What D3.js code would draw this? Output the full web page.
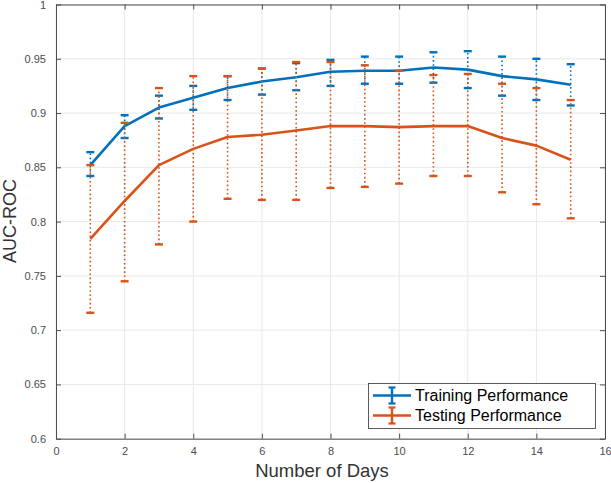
<!DOCTYPE html>
<html><head><meta charset="utf-8">
<script src="https://cdn.jsdelivr.net/npm/d3@7"></script>
<style>
html,body{margin:0;padding:0;background:#fff;}
text{font-family:"Liberation Sans",Arial,Helvetica,sans-serif;}
</style></head>
<body><svg id="c" width="611" height="483"></svg>
<script>
const days = [1,2,3,4,5,6,7,8,9,10,11,12,13,14,15];
const trainMean = [0.852,0.888,0.905,0.914,0.923,0.929,0.933,0.938,0.939,0.939,0.942,0.940,0.934,0.931,0.926];
const trainLo   = [0.842,0.877,0.895,0.903,0.912,0.917,0.921,0.925,0.927,0.927,0.928,0.923,0.916,0.912,0.907];
const trainHi   = [0.864,0.898,0.916,0.925,0.934,0.941,0.946,0.949,0.952,0.952,0.956,0.957,0.952,0.950,0.945];
const testMean  = [0.784,0.819,0.852,0.867,0.878,0.880,0.884,0.888,0.888,0.887,0.888,0.888,0.877,0.870,0.857];
const testLo    = [0.716,0.745,0.779,0.800,0.821,0.820,0.820,0.831,0.832,0.835,0.842,0.842,0.827,0.816,0.803];
const testHi    = [0.852,0.891,0.923,0.934,0.934,0.941,0.947,0.947,0.944,0.939,0.935,0.936,0.927,0.923,0.912];
const xTicks = [0,2,4,6,8,10,12,14,16];
const yTicks = [0.6,0.65,0.7,0.75,0.8,0.85,0.9,0.95,1];
const seriesNames = ["Training Performance","Testing Performance"];
const colors = ["#0072BD","#D95319"];

const L=56, R=605, T=4.5, B=438.7;
const svg = d3.select("#c");
const x = d3.scaleLinear().domain([0,16]).range([L,R]);
const y = d3.scaleLinear().domain([0.6,1]).range([B,T]);
const axisCol = "#4d4d4d";

// grid
const g = svg.append("g");
g.selectAll(".gx").data(xTicks).enter().append("line")
 .attr("x1",d=>x(d)).attr("x2",d=>x(d)).attr("y1",T).attr("y2",B)
 .attr("stroke","#e8e8e8").attr("stroke-width",1);
g.selectAll(".gy").data(yTicks).enter().append("line")
 .attr("y1",d=>y(d)).attr("y2",d=>y(d)).attr("x1",L).attr("x2",R)
 .attr("stroke","#e8e8e8").attr("stroke-width",1);

// axes
const fmt = d=>d3.format("")(+d.toFixed(2));
const ax = svg.append("g").attr("transform",`translate(0,${B})`)
 .call(d3.axisBottom(x).tickValues(xTicks).tickSizeInner(-5).tickSizeOuter(0).tickPadding(9).tickFormat(fmt));
const ay = svg.append("g").attr("transform",`translate(${L},0)`)
 .call(d3.axisLeft(y).tickValues(yTicks).tickSizeInner(-5).tickSizeOuter(0).tickPadding(10).tickFormat(fmt));
const axT = svg.append("g").attr("transform",`translate(0,${T})`)
 .call(d3.axisTop(x).tickValues(xTicks).tickSizeInner(-5).tickSizeOuter(0).tickFormat(""));
const ayR = svg.append("g").attr("transform",`translate(${R},0)`)
 .call(d3.axisRight(y).tickValues(yTicks).tickSizeInner(-5).tickSizeOuter(0).tickFormat(""));
[ax,ay,axT,ayR].forEach(a=>{
  a.select(".domain").attr("stroke",axisCol).attr("stroke-width",1);
  a.selectAll(".tick line").attr("stroke",axisCol);
  a.selectAll(".tick text").attr("fill","#4d4d4d").style("font-size","11px")
   .style("font-family","'Liberation Sans',Arial,sans-serif");
});

// series
const series = [
 {mean:trainMean, lo:trainLo, hi:trainHi},
 {mean:testMean, lo:testLo, hi:testHi}
];
const capW = 4;
series.forEach((s,i)=>{
  const sg = svg.append("g");
  const pts = days.map((d,j)=>({d, m:s.mean[j], lo:s.lo[j], hi:s.hi[j]}));
  sg.selectAll(".eb").data(pts).enter().append("line")
   .attr("x1",p=>x(p.d)).attr("x2",p=>x(p.d)).attr("y1",p=>y(p.lo)).attr("y2",p=>y(p.hi))
   .attr("stroke",colors[i]).attr("stroke-width",1.6).attr("stroke-dasharray","1.6,2.6");
  ["lo","hi"].forEach(k=>{
    sg.selectAll(".cap"+k).data(pts).enter().append("line")
     .attr("x1",p=>x(p.d)-capW).attr("x2",p=>x(p.d)+capW)
     .attr("y1",p=>y(p[k])).attr("y2",p=>y(p[k]))
     .attr("stroke",colors[i]).attr("stroke-width",2.4);
  });
  sg.append("path").datum(pts)
   .attr("d",d3.line().x(p=>x(p.d)).y(p=>y(p.m)))
   .attr("fill","none").attr("stroke",colors[i]).attr("stroke-width",2.6)
   .attr("stroke-linejoin","round");
});

// labels
svg.append("text").attr("x",322).attr("y",477).attr("text-anchor","middle")
 .attr("fill","#333").style("font-size","18.5px").text("Number of Days");
svg.append("text").attr("transform",`translate(16,221) rotate(-90)`)
 .attr("text-anchor","middle").attr("fill","#333").style("font-size","18px").text("AUC-ROC");

// legend
const lg = svg.append("g");
lg.append("rect").attr("x",368.5).attr("y",383.5).attr("width",227).attr("height",45)
 .attr("fill","#fff").attr("stroke","#333").attr("stroke-width",0.8);
seriesNames.forEach((n,i)=>{
  const cy = 395.5 + i*20;
  lg.append("line").attr("x1",373).attr("x2",411).attr("y1",cy).attr("y2",cy)
   .attr("stroke",colors[i]).attr("stroke-width",2.4);
  lg.append("line").attr("x1",392).attr("x2",392).attr("y1",cy-8).attr("y2",cy+8)
   .attr("stroke",colors[i]).attr("stroke-width",2.4);
  [-8,8].forEach(o=>lg.append("line").attr("x1",388.5).attr("x2",395.5).attr("y1",cy+o).attr("y2",cy+o)
   .attr("stroke",colors[i]).attr("stroke-width",2.2));
  lg.append("text").attr("x",415).attr("y",cy+5.5).attr("fill","#000")
   .style("font-size","16px").text(n);
});
</script></body></html>
